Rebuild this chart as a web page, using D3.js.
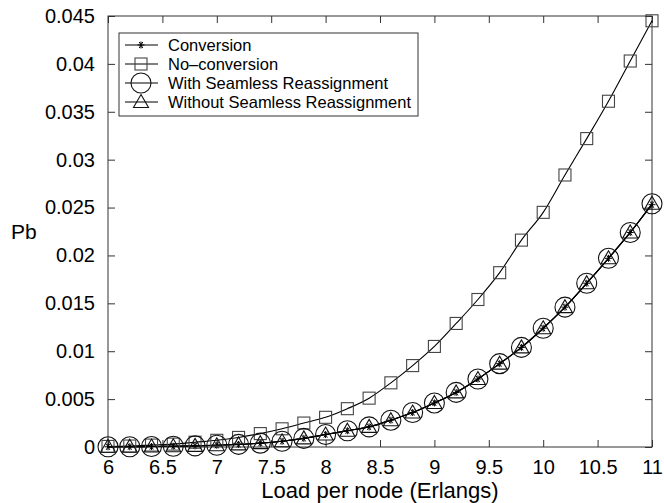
<!DOCTYPE html>
<html lang="en">
<head>
  <meta charset="UTF-8">
  <title>Pb vs load per node</title>
  <script src="https://cdn.jsdelivr.net/npm/d3@7"></script>
  <style>
    body { margin: 0; background: #fff; }
    svg { display: block; font-family: "Liberation Sans", Arial, sans-serif; }
    .axis text { font-size: 20px; fill: #000; }
    .axis path { display: none; }
    .axis line { stroke: #333; }
  </style>
</head>
<body>
<div id="chart"></div>
<script>
  // load per node (Erlangs)
  const load = [6, 6.2, 6.4, 6.6, 6.8, 7, 7.2, 7.4, 7.6, 7.8, 8, 8.2, 8.4, 8.6, 8.8,
                9, 9.2, 9.4, 9.6, 9.8, 10, 10.2, 10.4, 10.6, 10.8, 11];

  // blocking probability
  const conversion = [0.00002, 0.00003, 0.00005, 0.00008, 0.00012, 0.00018, 0.00027, 0.0004, 0.0006,
                      0.0009, 0.0013, 0.0017, 0.0021, 0.0028, 0.0036, 0.0046, 0.0057, 0.0071, 0.0087,
                      0.0104, 0.0124, 0.0146, 0.0171, 0.0197, 0.0224, 0.0253];
  const noConversion = [0.00006, 0.0001, 0.0002, 0.0003, 0.0005, 0.0007, 0.0010, 0.0014, 0.0019,
                        0.0025, 0.0031, 0.0040, 0.0051, 0.0067, 0.0085, 0.0105, 0.0129, 0.0154, 0.0182,
                        0.0216, 0.0245, 0.0284, 0.0322, 0.0361, 0.0403, 0.0445];
  const withSeamless = [0.00002, 0.00003, 0.00005, 0.00008, 0.00012, 0.00018, 0.00027, 0.0004, 0.0006,
                        0.0009, 0.0013, 0.0017, 0.0021, 0.0028, 0.0036, 0.0046, 0.0057, 0.0071, 0.0087,
                        0.0104, 0.0124, 0.0146, 0.0171, 0.0197, 0.0224, 0.0254];
  const withoutSeamless = [0.00002, 0.00003, 0.00005, 0.00008, 0.00012, 0.00018, 0.00027, 0.0004, 0.0006,
                           0.0009, 0.0013, 0.0017, 0.0021, 0.0028, 0.0036, 0.0046, 0.0057, 0.0071, 0.0087,
                           0.0104, 0.0124, 0.0146, 0.0171, 0.0197, 0.0224, 0.0254];

  const xTicks = [6, 6.5, 7, 7.5, 8, 8.5, 9, 9.5, 10, 10.5, 11];
  const yTicks = [0, 0.005, 0.01, 0.015, 0.02, 0.025, 0.03, 0.035, 0.04, 0.045];

  const series = [
    { name: "Conversion", values: conversion, marker: "star" },
    { name: "No\u2013conversion", values: noConversion, marker: "square" },
    { name: "With Seamless Reassignment", values: withSeamless, marker: "circle" },
    { name: "Without Seamless Reassignment", values: withoutSeamless, marker: "triangle" }
  ];

  const width = 664, height = 503;
  const margin = { top: 16, right: 12, bottom: 56, left: 108 };
  const iw = width - margin.left - margin.right;
  const ih = height - margin.top - margin.bottom;

  const svg = d3.select("#chart").append("svg")
      .attr("width", width)
      .attr("height", height);

  const g = svg.append("g").attr("transform", `translate(${margin.left},${margin.top})`);

  const x = d3.scaleLinear().domain([6, 11]).range([0, iw]);
  const y = d3.scaleLinear().domain([0, 0.045]).range([ih, 0]);

  const fmt = d => d === 0 ? "0" : String(d);

  // axes with inward ticks on all four sides
  g.append("g").attr("class", "axis").attr("transform", `translate(0,${ih})`)
      .call(d3.axisBottom(x).tickValues(xTicks).tickFormat(fmt).tickSize(-7).tickPadding(13));
  g.append("g").attr("class", "axis")
      .call(d3.axisLeft(y).tickValues(yTicks).tickFormat(fmt).tickSize(-7).tickPadding(13));
  g.append("g").attr("class", "axis")
      .call(d3.axisTop(x).tickValues(xTicks).tickFormat("").tickSize(-7));
  g.append("g").attr("class", "axis").attr("transform", `translate(${iw},0)`)
      .call(d3.axisRight(y).tickValues(yTicks).tickFormat("").tickSize(-7));

  g.append("rect")
      .attr("width", iw).attr("height", ih)
      .attr("fill", "none").attr("stroke", "#333").attr("stroke-width", 1);

  function drawMarker(sel, type) {
    if (type === "star") {
      const r = 3.5;
      [0, 60, 120].forEach(a => {
        const dx = r * Math.cos(a * Math.PI / 180), dy = r * Math.sin(a * Math.PI / 180);
        sel.append("line").attr("x1", -dx).attr("y1", -dy).attr("x2", dx).attr("y2", dy)
            .attr("stroke", "#000").attr("stroke-width", 1);
      });
      sel.append("line").attr("x1", 0).attr("y1", -r).attr("x2", 0).attr("y2", r)
          .attr("stroke", "#000").attr("stroke-width", 1);
    } else if (type === "square") {
      sel.append("rect").attr("x", -6).attr("y", -6).attr("width", 12).attr("height", 12)
          .attr("fill", "none").attr("stroke", "#444").attr("stroke-width", 1.1);
    } else if (type === "circle") {
      sel.append("circle").attr("r", 10)
          .attr("fill", "none").attr("stroke", "#111").attr("stroke-width", 1.1);
    } else if (type === "triangle") {
      sel.append("path").attr("d", "M0,-7.5L7.5,5.5L-7.5,5.5Z")
          .attr("fill", "none").attr("stroke", "#111").attr("stroke-width", 1.1);
    }
  }

  const line = d3.line()
      .x((d, i) => x(load[i]))
      .y(d => y(d))
      .curve(d3.curveMonotoneX);

  series.forEach(s => {
    g.append("path")
        .datum(s.values)
        .attr("fill", "none")
        .attr("stroke", "#000")
        .attr("stroke-width", 1.1)
        .attr("d", line);
  });

  series.forEach(s => {
    g.append("g").selectAll("g")
        .data(s.values)
        .join("g")
        .attr("transform", (d, i) => `translate(${x(load[i])},${y(d)})`)
        .each(function () { drawMarker(d3.select(this), s.marker); });
  });

  // legend
  const lg = svg.append("g").attr("transform", "translate(119,33)");
  lg.append("rect").attr("width", 299).attr("height", 83)
      .attr("fill", "#fff").attr("stroke", "#333").attr("stroke-width", 1);
  series.forEach((s, i) => {
    const row = lg.append("g").attr("transform", `translate(0,${12 + i * 19})`);
    row.append("line").attr("x1", 6).attr("x2", 39).attr("y1", 0).attr("y2", 0)
        .attr("stroke", "#000").attr("stroke-width", 1.1);
    const m = row.append("g").attr("transform", "translate(22,0)");
    drawMarker(m, s.marker);
    row.append("text").attr("x", 49).attr("y", 5.5)
        .attr("font-size", 16.5).text(s.name);
  });

  // axis titles
  svg.append("text")
      .attr("x", 380).attr("y", 498)
      .attr("text-anchor", "middle").attr("font-size", 22)
      .text("Load per node (Erlangs)");
  svg.append("text")
      .attr("x", 11).attr("y", 239)
      .attr("font-size", 21)
      .text("Pb");
</script>
</body>
</html>
